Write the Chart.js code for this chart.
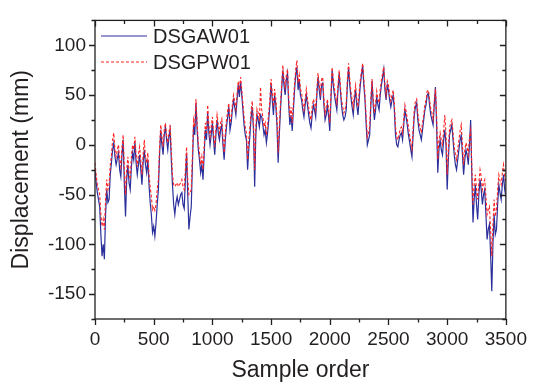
<!DOCTYPE html>
<html lang="en">
<head>
<meta charset="UTF-8">
<title>Displacement vs sample order</title>
<script src="https://cdn.jsdelivr.net/npm/chart.js"></script>
<style>
  body { margin: 0; padding: 0; background: #fff; }
  #wrap { width: 536px; height: 384px; }
</style>
</head>
<body>
<div id="wrap"><canvas id="dispChart" width="536" height="384"></canvas></div>
<script>
// values, one every STEP samples
const STEP = 10;
const dsgaw01 = [
  -25, -38, -48, -55, -62, -90, -112, -100, -115, -70, -45, -58, -55, -30, -18, -5, 2, -12, -20, -14,
  -8, -25, -32, -10, 5, -40, -72, -35, -20, -38, -45, -22, -8, -15, 3, -18, -30, -20, -10, -25,
  -40, -18, -5, -20, -28, -15, -40, -58, -70, -88, -82, -92, -78, -60, -45, -10, 15, 0, -10, 10,
  18, 5, -5, 8, 15, -15, -40, -60, -70, -58, -52, -60, -55, -50, -48, -60, -64, -35, -8, -50,
  -85, -72, -62, -20, 20, 10, 42, 15, -5, -15, -28, -20, -35, -10, 15, 5, 32, 12, 0, 10,
  22, 5, -10, 10, 25, 12, 5, 15, 20, 0, -15, 5, 18, 28, 38, 15, 22, 35, 45, 38,
  30, 45, 60, 48, 64, 50, 35, 20, 10, 5, -25, -5, 10, 28, 38, 15, -42, 10, 30, 25,
  18, 30, 28, 20, 10, 15, 2, 12, 25, 40, 62, 45, 30, 50, 40, 20, -18, 10, 35, 55,
  75, 60, 50, 65, 72, 40, 20, 30, 14, 35, 55, 70, 78, 55, 65, 50, 45, 35, 28, 40,
  50, 40, 30, 22, 17, 30, 40, 35, 28, 50, 68, 55, 45, 60, 62, 40, 25, 30, 40, 28,
  14, 45, 75, 60, 50, 42, 35, 55, 72, 55, 40, 30, 25, 28, 35, 60, 78, 60, 48, 38,
  30, 45, 55, 40, 30, 45, 60, 70, 80, 60, 45, 20, 0, 5, 10, 40, 64, 40, 25, 35,
  48, 40, 35, 50, 60, 68, 76, 55, 45, 60, 55, 45, 38, 45, 50, 35, 10, 0, -2, 5,
  10, 12, 5, 20, 35, 28, 20, 10, 3, -5, -12, 10, 30, 38, 42, 25, 15, 10, 5, 15,
  25, 35, 40, 50, 52, 40, 30, 25, 20, 40, 58, 20, -28, -5, 5, -5, -10, 5, 15, 0,
  -45, -15, 10, 15, 20, 5, -10, -20, -25, -15, -5, 5, 10, -10, -30, -15, -5, -10, -20, 0,
  25, -30, -78, -55, -40, -60, -75, -50, -35, -45, -60, -50, -45, -70, -95, -85, -80, -110, -147, -100,
  -70, -90, -85, -60, -40, -48, -55, -40, -30, -45, -52
];
const dsgpw01 = [
  -18, -30, -40, -45, -50, -70, -82, -75, -85, -55, -35, -45, -40, -20, -10, 5, 12, -5, -12, -5,
  0, -15, -22, -2, 10, -25, -50, -25, -12, -28, -35, -12, 0, -5, 8, -10, -22, -10, -2, -15,
  -30, -10, 5, -12, -18, -8, -30, -42, -52, -65, -62, -66, -60, -45, -35, -2, 20, 8, -2, 15,
  22, 10, 2, 12, 20, -5, -30, -40, -42, -40, -38, -42, -40, -38, -35, -42, -45, -25, -2, -35,
  -50, -48, -45, -10, 25, 18, 46, 22, 2, -8, -20, -12, -25, -2, 22, 12, 40, 20, 8, 18,
  28, 12, -2, 16, 30, 20, 12, 22, 26, 8, -8, 12, 24, 34, 42, 22, 28, 40, 50, 44,
  36, 50, 64, 55, 68, 56, 42, 28, 18, 12, -15, 5, 18, 35, 44, 22, -25, 18, 36, 32,
  24, 58, 35, 28, 18, 22, 10, 20, 32, 46, 66, 52, 38, 56, 46, 28, -8, 18, 42, 60,
  80, 66, 58, 70, 76, 48, 28, 38, 22, 42, 62, 76, 85, 62, 70, 56, 52, 42, 35, 46,
  56, 46, 38, 30, 25, 38, 46, 42, 35, 56, 72, 60, 52, 66, 68, 46, 32, 38, 46, 35,
  22, 52, 78, 66, 56, 48, 42, 60, 75, 60, 46, 38, 32, 35, 42, 66, 82, 66, 54, 45,
  38, 52, 60, 46, 38, 52, 65, 74, 82, 66, 50, 28, 8, 12, 18, 46, 66, 46, 32, 42,
  54, 46, 42, 56, 65, 72, 78, 60, 50, 64, 60, 50, 44, 50, 55, 42, 18, 8, 5, 10,
  16, 18, 12, 26, 40, 34, 26, 18, 10, 2, -4, 16, 36, 44, 46, 32, 22, 18, 12, 22,
  30, 40, 45, 54, 55, 46, 36, 32, 26, 44, 56, 30, -15, 5, 12, 4, 0, 15, 30, 10,
  -30, -5, 16, 22, 25, 12, -2, -10, -15, -5, 5, 14, 20, 0, -20, -5, 2, -2, -10, 8,
  15, -20, -60, -40, -30, -45, -55, -38, -25, -32, -45, -38, -35, -52, -70, -65, -62, -85, -112, -80,
  -55, -72, -65, -45, -30, -36, -40, -28, -20, -32, -38
];
const xTicks = [0, 500, 1000, 1500, 2000, 2500, 3000, 3500];
const yTicks = [-150, -100, -50, 0, 50, 100];

const FONT = '"Liberation Sans", Arial, sans-serif';
const INK = '#231f20';

const toPoints = arr => arr.map((v, i) => ({ x: i * STEP, y: v }));

// box, inward/outward ticks and the in-plot legend
const framePlugin = {
  id: 'frame',
  afterDatasetsDraw(chart) {
    const { ctx, chartArea: a, scales: { x, y } } = chart;
    ctx.save();
    ctx.strokeStyle = INK;
    ctx.lineWidth = 1.3;
    ctx.strokeRect(a.left, a.top, a.right - a.left, a.bottom - a.top);

    const xt = [], yt = [];
    xTicks.forEach((v, i) => {
      xt.push([v, 6]);
      if (i < xTicks.length - 1) xt.push([(v + xTicks[i + 1]) / 2, 3.5]);
    });
    yTicks.forEach((v, i) => {
      yt.push([v, 6]);
      if (i < yTicks.length - 1) yt.push([(v + yTicks[i + 1]) / 2, 3.5]);
    });
    yt.push([yTicks[0] - 25, 3.5]);
    yt.push([yTicks[yTicks.length - 1] + 25, 3.5]);

    ctx.beginPath();
    xt.forEach(([v, len]) => {
      const px = Math.round(x.getPixelForValue(v)) + 0.5;
      ctx.moveTo(px, a.bottom); ctx.lineTo(px, a.bottom + len);
      ctx.moveTo(px, a.top); ctx.lineTo(px, a.top + len);
    });
    yt.forEach(([v, len]) => {
      const py = Math.round(y.getPixelForValue(v)) + 0.5;
      ctx.moveTo(a.left, py); ctx.lineTo(a.left - len, py);
      ctx.moveTo(a.right, py); ctx.lineTo(a.right - len, py);
    });
    ctx.stroke();

    // legend
    const rows = [[0, 36], [1, 62]];
    ctx.font = '20px ' + FONT;
    ctx.textBaseline = 'middle';
    ctx.fillStyle = INK;
    rows.forEach(([di, ly]) => {
      const ds = chart.data.datasets[di];
      ctx.beginPath();
      ctx.strokeStyle = ds.borderColor;
      ctx.lineWidth = 1.2;
      ctx.setLineDash(ds.borderDash || []);
      ctx.moveTo(101, ly); ctx.lineTo(147, ly);
      ctx.stroke();
      ctx.setLineDash([]);
      ctx.fillText(ds.label, 153, ly + 1);
    });
    ctx.restore();
  }
};

new Chart(document.getElementById('dispChart'), {
  type: 'line',
  data: {
    datasets: [
      {
        label: 'DSGAW01',
        data: toPoints(dsgaw01),
        borderColor: '#2b2f9b',
        borderWidth: 1.2,
        pointRadius: 0,
        tension: 0,
        order: 1
      },
      {
        label: 'DSGPW01',
        data: toPoints(dsgpw01),
        borderColor: '#ff2424',
        borderWidth: 1.1,
        borderDash: [3, 2],
        pointRadius: 0,
        tension: 0,
        order: 0
      }
    ]
  },
  options: {
    responsive: false,
    animation: false,
    layout: { padding: { top: 14, right: 28, left: 0, bottom: 0 } },
    plugins: { legend: { display: false }, tooltip: { enabled: false } },
    scales: {
      x: {
        type: 'linear',
        min: 0,
        max: 3500,
        grid: { display: false, drawTicks: false },
        border: { display: false },
        afterBuildTicks: s => { s.ticks = xTicks.map(v => ({ value: v })); },
        afterFit: s => { s.height = 65; },
        ticks: {
          color: INK, font: { size: 19, family: FONT }, padding: 9, maxRotation: 0, autoSkip: false,
          callback: v => String(v)
        },
        title: { display: true, text: 'Sample order', color: INK, font: { size: 23, family: FONT }, padding: 0 }
      },
      y: {
        min: -175,
        max: 125,
        grid: { display: false, drawTicks: false },
        border: { display: false },
        afterBuildTicks: s => { s.ticks = yTicks.map(v => ({ value: v })); },
        afterFit: s => { s.width = 95; },
        ticks: { color: INK, font: { size: 19, family: FONT }, padding: 9, autoSkip: false },
        title: { display: true, text: 'Displacement (mm)', color: INK, font: { size: 23, family: FONT }, padding: { top: 8, bottom: 0 } }
      }
    }
  },
  plugins: [framePlugin]
});
</script>
</body>
</html>
